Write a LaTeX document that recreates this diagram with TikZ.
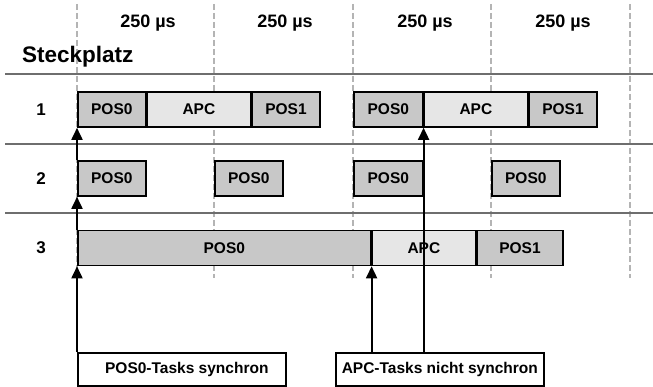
\documentclass[tikz,border=0pt]{standalone}
\usepackage{fontspec}
\setmainfont{Liberation Sans}
\usetikzlibrary{positioning,arrows.meta}

\definecolor{posgray}{HTML}{C8C8C8}
\definecolor{apcgray}{HTML}{E6E6E6}
\definecolor{gridgray}{HTML}{B4B4B4}
\definecolor{linegray}{HTML}{6E6E6E}

\tikzset{
  slot/.style={draw, line width=1.6pt, minimum height=35pt, inner sep=0pt,
    font=\bfseries\fontsize{15.5}{15.5}\selectfont},
  posbox/.style={slot, fill=posgray, minimum width=68pt},
  apcbox/.style={slot, fill=apcgray, minimum width=103pt},
  note/.style={draw, line width=1.6pt, minimum width=208pt, minimum height=33pt,
    inner sep=0pt, font=\bfseries\fontsize{15.5}{15.5}\selectfont},
  trigger/.style={line width=1.8pt, -{Triangle[width=11pt,length=12pt]}},
  period/.style={gridgray, line width=1.4pt, dash pattern=on 6pt off 3pt},
  rowline/.style={linegray, line width=1.2pt},
  lbl/.style={font=\bfseries\fontsize{17}{17}\selectfont},
}

\begin{document}
\begin{tikzpicture}[x=1pt, y=-1pt]
    \useasboundingbox (0,0) rectangle (653,387);

    % Zeitraster
    \foreach \t in {77,214,353,491,630}
        \draw[period] (\t,4) -- (\t,278);
    \foreach \c [count=\i] in {148,285,425,563}
        \node[font=\bfseries\fontsize{18}{18}\selectfont] (per\i) at (\c,23) {250 µs};
    \node[font=\bfseries\fontsize{22.5}{22.5}\selectfont, anchor=west, inner sep=0pt] (head) at (22,57) {Steckplatz};

    % Trennlinien
    \draw[rowline] (5,74) -- (653,74);
    \draw[rowline] (5,144) -- (653,144);
    \draw[rowline] (5,213) -- (653,213);

    % Steckplatz 1
    \node[lbl] (s1) at (41,109.5) {1};
    \node[posbox, anchor=west] (r1a) at (77,109.5) {POS0};
    \node[apcbox, right=0pt of r1a] (r1b) {APC};
    \node[posbox, right=0pt of r1b] (r1c) {POS1};
    \node[posbox, anchor=west, minimum width=69pt] (r1d) at (353,109.5) {POS0};
    \node[apcbox, right=0pt of r1d] (r1e) {APC};
    \node[posbox, right=0pt of r1e] (r1f) {POS1};

    % Steckplatz 2
    \node[lbl] (s2) at (41,178.5) {2};
    \node[posbox, anchor=west] (r2a) at (77,178.5) {POS0};
    \node[posbox, anchor=west] (r2b) at (214,178.5) {POS0};
    \node[posbox, anchor=west, minimum width=69pt] (r2c) at (353,178.5) {POS0};
    \node[posbox, anchor=west] (r2d) at (491,178.5) {POS0};

    % Steckplatz 3
    \node[lbl] (s3) at (41,248) {3};
    \node[posbox, anchor=west, minimum width=293pt] (r3a) at (77,248) {POS0};
    \node[apcbox, right=0pt of r3a] (r3b) {APC};
    \node[posbox, right=0pt of r3b, minimum width=86pt] (r3c) {POS1};

    % Hinweise
    \node[note, anchor=north west] (syn) at (77,352) {\hspace{10pt}POS0-Tasks synchron};
    \node[note, anchor=north west] (asyn) at (335,352) {APC-Tasks nicht synchron};

    % Pfeile
    \draw[trigger] (syn.north west) -- (r3a.south west);
    \draw[trigger] (r3a.north west) -- (r2a.south west);
    \draw[trigger] (r2a.north west) -- (r1a.south west);
    \draw[trigger] (asyn.north -| r3b.south west) -- (r3b.south west);
    \draw[trigger] (asyn.north -| r1d.south east) -- (r1d.south east);
\end{tikzpicture}
\end{document}
